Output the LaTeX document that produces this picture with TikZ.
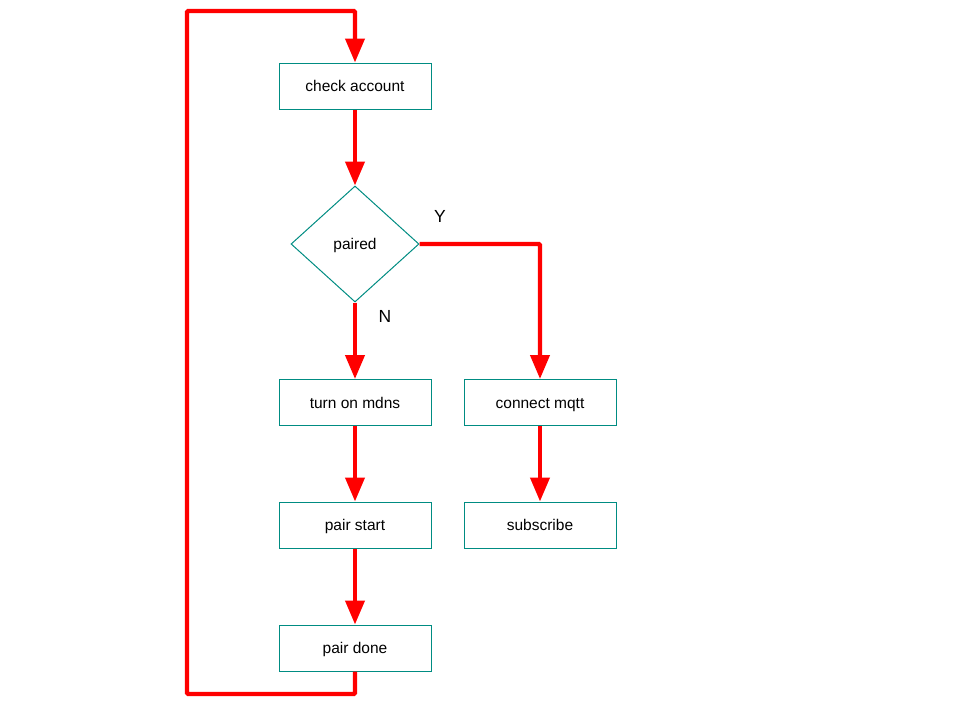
\documentclass[tikz,border=0pt]{standalone}
\usepackage{fontspec}
\setmainfont{Liberation Sans}
\usetikzlibrary{shapes.geometric,arrows.meta}
\definecolor{boxc}{RGB}{0,140,130}
\begin{document}
\begin{tikzpicture}[x=1pt,y=-1pt,
  txt/.style={font=\fontsize{15.5}{17}\selectfont,text height=11pt,text depth=0pt},
  stepbox/.style={txt,draw=boxc,line width=1pt,minimum width=152pt,minimum height=46pt,inner sep=0pt},
  decide/.style={draw=boxc,line width=1pt,diamond,minimum width=128pt,minimum height=116pt,inner sep=0pt,aspect=1.1},
  flow/.style={draw=red,line width=4.2pt,-{Triangle[width=19pt,length=24pt]}},
  lbl/.style={font=\fontsize{17.5}{19}\selectfont}]
\useasboundingbox (0,0) rectangle (960,720);
\node[stepbox] (check) at (355,86) {check account};
\node[decide] (paired) at (355,244) {};
\node[txt] (pt) at (355,244) {paired};
\node[stepbox] (mdns) at (355,402.5) {turn on mdns};
\node[stepbox] (mqtt) at (540,402.5) {connect mqtt};
\node[stepbox] (start) at (355,525) {pair start};
\node[stepbox] (sub) at (540,525) {subscribe};
\node[stepbox] (done) at (355,648) {pair done};
\node[lbl] (ylbl) at (440,216) {Y};
\node[lbl] (nlbl) at (385,316) {N};
\coordinate (c1) at (355,694);
\coordinate (c2) at (187,694);
\coordinate (c3) at (187,11);
\coordinate (c4) at (355,11);
\coordinate (c5) at (540,244);
\draw[flow] (check) -- (paired.north);
\draw[flow] (paired.south) -- (mdns);
\draw[flow,rounded corners=1pt] (paired.east) -- (c5) -- (mqtt);
\draw[flow] (mdns) -- (start);
\draw[flow] (start) -- (done);
\draw[flow] (mqtt) -- (sub);
\draw[flow,rounded corners=1pt] (done.south) -- (c1) -- (c2) -- (c3) -- (c4) -- (check.north);
\end{tikzpicture}
\end{document}
